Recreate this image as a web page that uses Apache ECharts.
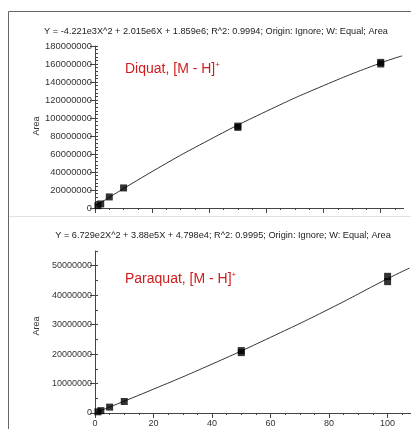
<!DOCTYPE html>
<html>
<head>
<meta charset="utf-8">
<script src="https://cdn.jsdelivr.net/npm/echarts@6/dist/echarts.min.js"></script>
<style>
  html, body { margin: 0; padding: 0; background: #fff; }
  #main { width: 411px; height: 429px; }
</style>
</head>
<body>
<div id="main"></div>
<script>
// concentration of the standards (two replicates at 50 and 100)
var conc = [1, 2, 5, 10, 50, 50, 100, 100];
var diquatArea = [2.6e6, 4.5e6, 12.3e6, 22.3e6, 89.6e6, 91.0e6, 160.0e6, 161.8e6];
var paraquatArea = [0.4e6, 0.8e6, 2.0e6, 3.9e6, 20.5e6, 21.2e6, 44.6e6, 46.4e6];

// fitted curves
var fitX = [0, 20, 40, 60, 80, 100, 107.5];
var diquatFit = [1.9e6, 40.5e6, 75.7e6, 107.5e6, 136e6, 161.2e6, 169e6];
var paraquatFit = [0.05e6, 8.1e6, 16.6e6, 25.7e6, 35.3e6, 45.6e6, 49.2e6];

var xMajor = [0, 20, 40, 60, 80, 100];
var xMinor = [0, 5, 10, 15, 20, 25, 30, 35, 40, 45, 50, 55, 60, 65, 70, 75, 80, 85, 90, 95, 100, 105];

var diquatTitle = 'Y = -4.221e3X^2 + 2.015e6X + 1.859e6; R^2: 0.9994; Origin: Ignore; W: Equal; Area';
var paraquatTitle = 'Y = 6.729e2X^2 + 3.88e5X + 4.798e4; R^2: 0.9995; Origin: Ignore; W: Equal; Area';

var font = '"Liberation Sans", Arial, sans-serif';
var axisColor = '#444';
var labelColor = '#333';

function pairs(xs, ys) {
    var out = [];
    for (var i = 0; i < xs.length; i++) out.push([xs[i], ys[i]]);
    return out;
}

function mainX(grid, showLabels) {
    return {
        type: 'value', gridIndex: grid, min: 0, max: 108, interval: 20,
        axisLine: { lineStyle: { color: axisColor, width: 1 } },
        axisTick: { customValues: xMajor, length: 5, lineStyle: { color: axisColor } },
        axisLabel: { show: showLabels, customValues: xMajor, fontSize: 9, color: labelColor, fontFamily: font, margin: 6 },
        splitLine: { show: false }
    };
}
function minorX(grid) {
    return {
        type: 'value', gridIndex: grid, min: 0, max: 108, interval: 5, position: 'bottom',
        axisLine: { show: false },
        axisTick: { customValues: xMinor, length: 2, lineStyle: { color: axisColor } },
        axisLabel: { show: false },
        splitLine: { show: false }
    };
}
function mainY(grid, max, interval, size) {
    return {
        type: 'value', gridIndex: grid, min: 0, max: max, interval: interval,
        axisLine: { show: true, lineStyle: { color: axisColor, width: 1 } },
        axisTick: { length: 5, lineStyle: { color: axisColor } },
        axisLabel: { fontSize: size, color: labelColor, fontFamily: font, margin: 3,
                     showMaxLabel: max % interval === 0,
                     formatter: function (v) { return String(v); } },
        splitLine: { show: false }
    };
}
function minorY(grid, max, interval) {
    return {
        type: 'value', gridIndex: grid, min: 0, max: max, interval: interval, position: 'left',
        axisLine: { show: false },
        axisTick: { inside: true, length: 3, lineStyle: { color: axisColor } },
        axisLabel: { show: false },
        splitLine: { show: false }
    };
}
function areaLabel(x, y) {
    return { type: 'text', x: x, y: y, rotation: Math.PI / 2, silent: true,
             style: { text: 'Area', fontSize: 9, fill: labelColor, fontFamily: font,
                      align: 'center', verticalAlign: 'middle' } };
}
function compoundLabel(name, top) {
    return { type: 'text', left: 125, top: top, silent: true,
             style: { text: '{a|' + name + ', [M - H]}{s|+}', rich: {
                 a: { fontSize: 14, fill: '#d01c1c', fontFamily: font },
                 s: { fontSize: 8, fill: '#d01c1c', fontFamily: font, padding: [0, 0, 8, 0] } } } };
}

var chart = echarts.init(document.getElementById('main'));

var option = {
    backgroundColor: '#fff',
    animation: false,
    title: [
        { text: diquatTitle, left: 211, top: 22, textAlign: 'center',
          textStyle: { fontSize: 9.2, fontWeight: 'normal', color: '#222', fontFamily: font } },
        { text: paraquatTitle, left: 218, top: 226, textAlign: 'center',
          textStyle: { fontSize: 9.2, fontWeight: 'normal', color: '#222', fontFamily: font } }
    ],
    grid: [
        { left: 95, top: 46, width: 308.6, height: 162 },
        { left: 95, top: 251, width: 316, height: 162 }
    ],
    xAxis: [mainX(0, false), minorX(0), mainX(1, true), minorX(1)],
    yAxis: [mainY(0, 180e6, 20e6, 9.4), minorY(0, 180e6, 4e6), mainY(1, 55e6, 10e6, 9), minorY(1, 55e6, 5e6)],
    series: [
        { type: 'line', xAxisIndex: 0, yAxisIndex: 0, data: pairs(fitX, diquatFit), smooth: true,
          showSymbol: false, lineStyle: { color: '#333', width: 1 }, z: 2 },
        { type: 'scatter', xAxisIndex: 0, yAxisIndex: 0, data: pairs(conc, diquatArea),
          symbol: 'rect', symbolSize: 7, itemStyle: { color: '#000' }, z: 3 },
        { type: 'line', xAxisIndex: 2, yAxisIndex: 2, data: pairs(fitX, paraquatFit), smooth: true,
          showSymbol: false, lineStyle: { color: '#333', width: 1 }, z: 2 },
        { type: 'scatter', xAxisIndex: 2, yAxisIndex: 2, data: pairs(conc, paraquatArea),
          symbol: 'rect', symbolSize: 7, itemStyle: { color: '#000' }, z: 3 }
    ],
    graphic: [
        { type: 'rect', shape: { x: 8.5, y: 11.5, width: 430, height: 440 },
          style: { fill: 'none', stroke: '#666', lineWidth: 1 }, silent: true },
        { type: 'line', shape: { x1: 9, y1: 216.5, x2: 411, y2: 216.5 },
          style: { stroke: '#e2e2e2', lineWidth: 1 }, silent: true },
        areaLabel(37, 126),
        areaLabel(37, 326),
        compoundLabel('Diquat', 61),
        compoundLabel('Paraquat', 271)
    ]
};

chart.setOption(option);
</script>
</body>
</html>
